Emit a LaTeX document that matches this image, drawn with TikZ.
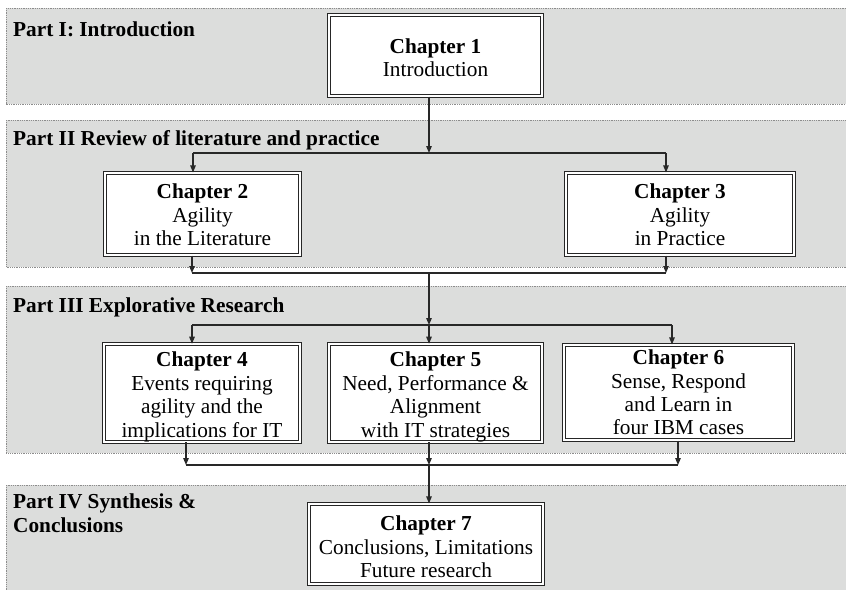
\documentclass[tikz,border=0pt]{standalone}
\usepackage{fontspec}
\setmainfont{Liberation Serif}
\usetikzlibrary{arrows.meta}

\definecolor{bandgray}{RGB}{220,221,220}
\definecolor{bandedge}{RGB}{140,140,140}
\definecolor{linkcol}{RGB}{40,40,40}

% invisible strut that lowers the first line of a box a little
\newcommand\toppad[1]{\rule{0pt}{#1}}

\tikzset{
  band/.style={fill=bandgray, draw=bandedge, line width=0.8pt,
               dash pattern=on 0.9pt off 0.9pt},
  parttitle/.style={inner sep=0pt, align=left,
               font=\fontsize{21.3}{24}\selectfont\bfseries},
  chapbox/.style={draw=black!85, double=white, line width=1.1pt,
               double distance=1.6pt, fill=white, inner sep=0pt,
               align=center, font=\fontsize{21.3}{23.4}\selectfont},
  link/.style={draw=linkcol, line width=1.2pt},
  arr/.style={link, -{Triangle[length=7pt,width=5.5pt]}}
}

\begin{document}
\begin{tikzpicture}[x=1pt, y=-1pt]
  \clip (0,0) rectangle (846,589);
  \fill[white] (0,0) rectangle (846,589);

  % horizontal bands, one per part
  \draw[band] (6,8)   rectangle (852,104);
  \draw[band] (6,120) rectangle (852,267);
  \draw[band] (6,286) rectangle (852,453);
  \draw[band] (6,485) rectangle (852,596);

  % part titles
  \node[parttitle, anchor=base west] (p1) at (13,36)  {Part I: Introduction};
  \node[parttitle, anchor=base west] (p2) at (13,145) {Part II Review of literature and practice};
  \node[parttitle, anchor=base west] (p3) at (13,312) {Part III Explorative Research};
  \node[parttitle, anchor=base west] (p4) at (13,532) {Part IV Synthesis \&\\Conclusions};

  % chapter boxes
  \node[chapbox, minimum width=213pt, minimum height=81pt] (ch1) at (435.5,55.5)
    {\toppad{18.7pt}\textbf{Chapter 1}\\Introduction};
  \node[chapbox, minimum width=195pt, minimum height=82pt] (ch2) at (202.5,214)
    {\toppad{16.7pt}\textbf{Chapter 2}\\Agility\\in the Literature};
  \node[chapbox, minimum width=228pt, minimum height=82pt] (ch3) at (680,214)
    {\toppad{16.7pt}\textbf{Chapter 3}\\Agility\\in Practice};
  \node[chapbox, minimum width=196pt, minimum height=96pt] (ch4) at (202,393)
    {\toppad{22.7pt}\textbf{Chapter 4}\\Events requiring\\agility and the\\implications for IT};
  \node[chapbox, minimum width=213pt, minimum height=96pt] (ch5) at (435.5,393)
    {\toppad{22.7pt}\textbf{Chapter 5}\\Need, Performance \&\\Alignment\\with IT strategies};
  \node[chapbox, minimum width=229pt, minimum height=95pt] (ch6) at (678.5,392.5)
    {\textbf{Chapter 6}\\Sense, Respond\\and Learn in\\four IBM cases};
  \node[chapbox, minimum width=234pt, minimum height=80pt] (ch7) at (426,544)
    {\toppad{20.7pt}\textbf{Chapter 7}\\Conclusions, Limitations\\Future research};

  % junction points of the connectors
  \coordinate (j1)  at (429,153);
  \coordinate (b2l) at (193,153);
  \coordinate (b2r) at (666,153);
  \coordinate (m2l) at (192,273);
  \coordinate (m2c) at (429,273);
  \coordinate (m2r) at (666,273);
  \coordinate (b3l) at (192,325);
  \coordinate (b3c) at (429,325);
  \coordinate (b3r) at (672,325);
  \coordinate (m3l) at (186,465);
  \coordinate (m3c) at (429,465);
  \coordinate (m3r) at (678,465);

  % Part I -> Part II
  \draw[arr] (j1 |- ch1.south) -- (j1);
  \draw[link] (b2l) -- (b2r);
  \draw[arr] (b2l) -- (b2l |- ch2.north);
  \draw[arr] (b2r) -- (b2r |- ch3.north);

  % Part II -> Part III
  \draw[arr] (m2l |- ch2.south) -- (m2l);
  \draw[arr] (m2r |- ch3.south) -- (m2r);
  \draw[link] (m2l) -- (m2r);
  \draw[arr] (m2c) -- (b3c);
  \draw[link] (b3l) -- (b3r);
  \draw[arr] (b3l) -- (b3l |- ch4.north);
  \draw[arr] (b3c) -- (b3c |- ch5.north);
  \draw[arr] (b3r) -- (b3r |- ch6.north);

  % Part III -> Part IV
  \draw[arr] (m3l |- ch4.south) -- (m3l);
  \draw[arr] (m3c |- ch5.south) -- (m3c);
  \draw[arr] (m3r |- ch6.south) -- (m3r);
  \draw[link] (m3l) -- (m3r);
  \draw[arr] (m3c) -- (m3c |- ch7.north);
\end{tikzpicture}
\end{document}
